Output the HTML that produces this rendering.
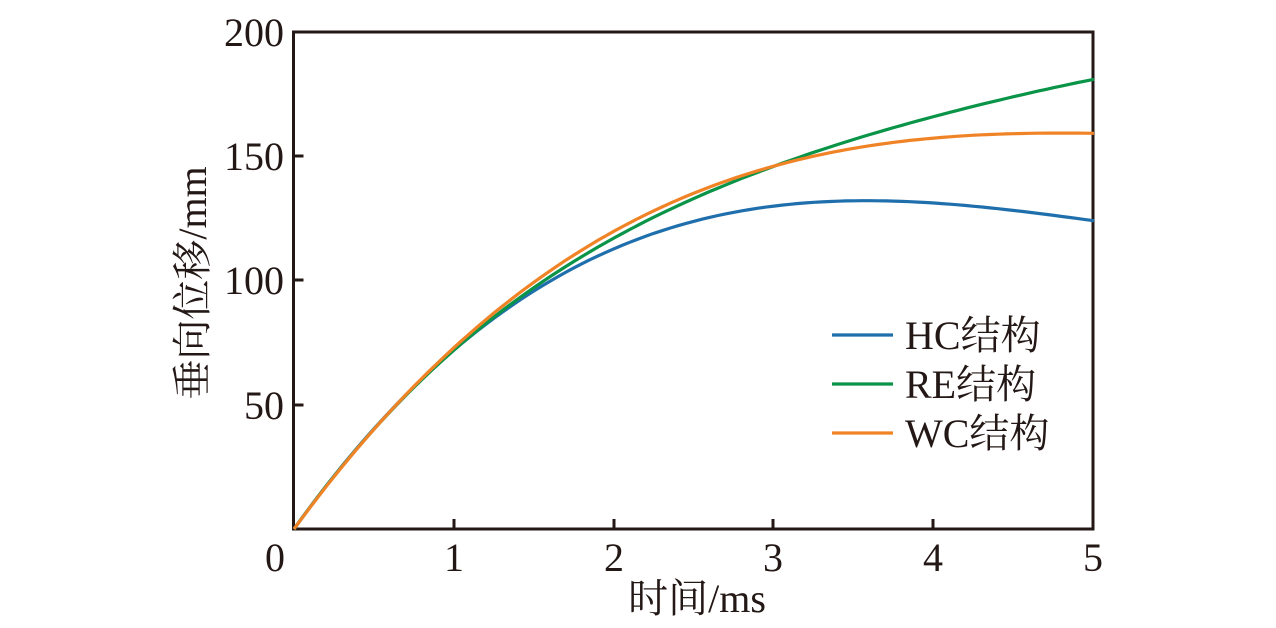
<!DOCTYPE html>
<html><head><meta charset="utf-8"><style>
html,body{margin:0;padding:0;background:#fff;}
svg{display:block;font-family:"Liberation Serif","Noto Serif CJK SC",serif;}
</style></head><body>
<svg id="s" width="1276" height="628" viewBox="0 0 1276 628" xmlns="http://www.w3.org/2000/svg">
<rect x="0" y="0" width="1276" height="628" fill="#fff"/>
<g stroke="#231815" stroke-width="3" fill="none">
<rect x="293.5" y="32" width="799.5" height="497"/>
<path d="M454,529 v-10 M614,529 v-10 M773,529 v-10 M933,529 v-10 M293.5,405 h10 M293.5,280 h10 M293.5,156 h10"/>
</g>
<g id="curves" fill="none" stroke-width="3.2"></g>
<g font-size="40" fill="#231815" text-anchor="middle">
<text x="275" y="571">0</text><text x="454" y="571">1</text><text x="614" y="571">2</text>
<text x="773" y="571">3</text><text x="933" y="571">4</text><text x="1093" y="571">5</text>
</g>
<g font-size="40" fill="#231815" text-anchor="end">
<text x="284" y="419">50</text><text x="284" y="294">100</text><text x="284" y="170">150</text><text x="284" y="46">200</text>
</g>
<text x="697" y="612" font-size="40" text-anchor="middle" fill="#231815">时间/ms</text>
<text transform="translate(206,283) rotate(-90)" font-size="40" text-anchor="middle" fill="#231815">垂向位移/mm</text>
<g stroke-width="3.2">
<line x1="832" y1="335" x2="893" y2="335" stroke="#1f6fad"/>
<line x1="832" y1="384" x2="893" y2="384" stroke="#0a9447"/>
<line x1="832" y1="433" x2="893" y2="433" stroke="#f08326"/>
</g>
<g font-size="40" fill="#231815">
<text x="905" y="349">HC结构</text><text x="905" y="398">RE结构</text><text x="905" y="447">WC结构</text>
</g>
</svg>
<script>
var g=document.getElementById('curves');
var defs=[["#1f6fad",90.16,-19.43,1.272,0],["#0a9447",89.87,-20.365,2.636,-0.142],["#f08326",87.97,-15.9,0.935,0]];
defs.forEach(function(d){var p="";for(var i=0;i<=100;i++){var t=i*0.05;var v=d[1]*t+d[2]*t*t+d[3]*t*t*t+d[4]*t*t*t*t;p+=(i?"L":"M")+(294+160*t).toFixed(1)+","+(529-2.485*v).toFixed(1);}
var e=document.createElementNS("http://www.w3.org/2000/svg","path");e.setAttribute("d",p);e.setAttribute("stroke",d[0]);g.appendChild(e);});
</script>
</body></html>
